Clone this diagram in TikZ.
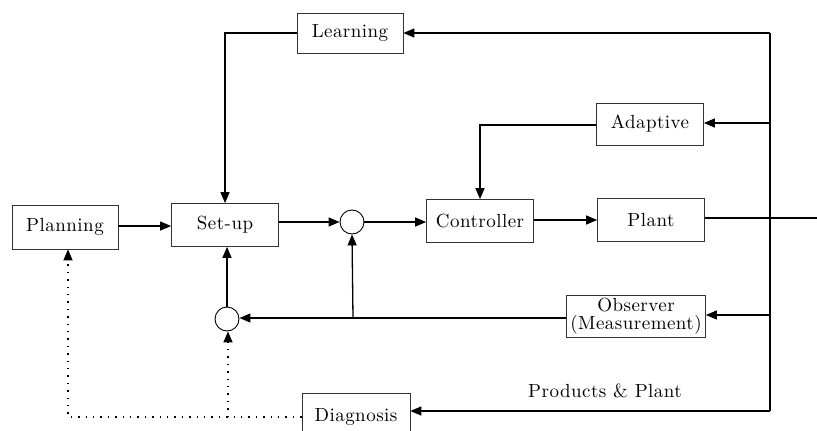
\documentclass[tikz,border=0pt]{standalone}
\usepackage{fontspec}
\setmainfont{lmroman10-regular}[Extension=.otf,LetterSpace=2.5]
\usetikzlibrary{arrows.meta}
\begin{document}
\begin{tikzpicture}[x=1pt,y=-1pt,
  blk/.style={draw=black!80,line width=0.7pt,rectangle,inner sep=0pt,minimum width=107pt,minimum height=43pt,font=\fontsize{19}{17.5}\selectfont,align=center},
  sumj/.style={draw,circle,line width=0.9pt,minimum size=24pt,inner sep=0pt},
  arr/.style={line width=1.3pt,-{Triangle[length=11pt,width=9pt]}},
  ln/.style={line width=1.3pt},
  dotl/.style={line width=1.4pt,dotted,dash pattern=on 1.4pt off 6pt,-{Triangle[length=11pt,width=9pt]}}]
\clip (0,0) rectangle (817,431);
\useasboundingbox (0,0) rectangle (817,431);
\fill[white] (0,0) rectangle (817,431);
\node[blk,minimum height=40pt,minimum width=106pt] (learn) at (350,33) {Learning};
\node[blk] (setup) at (225,225) {Set-up};
\node[blk,minimum height=44pt,minimum width=106pt] (plan) at (65,227) {Planning};
\node[sumj] (sum1) at (352,222) {};
\node[sumj] (sum2) at (227,319) {};
\node[blk] (ctrl) at (480,221) {Controller};
\node[blk] (plant) at (651,220) {Plant};
\node[blk,minimum height=42pt] (adapt) at (650,124) {Adaptive};
\node[blk,minimum width=139pt,minimum height=42pt] (obs) at (636,316) {Observer\\(Measurement)};
\node[blk,minimum width=108pt,minimum height=48pt] (diag) at (356,417) {Diagnosis};
\node[font=\fontsize{19}{20}\selectfont] (pp) at (605,391) {Products \& Plant};
% coordinates
\coordinate (vt) at (770,33);
\coordinate (vb) at (770,411);
\coordinate (va) at (770,123);
\coordinate (vo) at (770,315);
\coordinate (out) at (817,218);
\coordinate (br) at (353,318);
\coordinate (d1) at (68,417);
\coordinate (d2) at (228,417);
% connectors
\draw[ln] (vt) -- (vb);
\draw[arr] (vt) -- (learn.east |- vt);
\draw[arr] (learn.west) -| (setup.north);
\draw[arr] (plan.east |- 0,226) -- (setup.west |- 0,226);
\draw[arr] (setup.east |- sum1) -- (sum1.west);
\draw[arr] (sum1.east) -- (ctrl.west |- sum1);
\draw[arr] (ctrl.east |- 0,220) -- (plant.west |- 0,220);
\draw[ln] (plant.east |- out) -- (out);
\draw[arr] (va) -- (adapt.east |- va);
\draw[arr] (adapt.west |- 0,125) -| (ctrl.north);
\draw[arr] (vo) -- (obs.east |- vo);
\draw[arr] (obs.west |- br) -- (sum2.east |- br);
\draw[arr] (br) -- (sum1.south);
\draw[arr] (sum2.north) -- (setup.south -| sum2);
\draw[arr] (vb) -- (diag.east |- vb);
\draw[dotl] (diag.west |- d1) -- (d1) -- (plan.south -| d1);
\draw[dotl] (d2) -- (sum2.south -| d2);
\end{tikzpicture}
\end{document}
